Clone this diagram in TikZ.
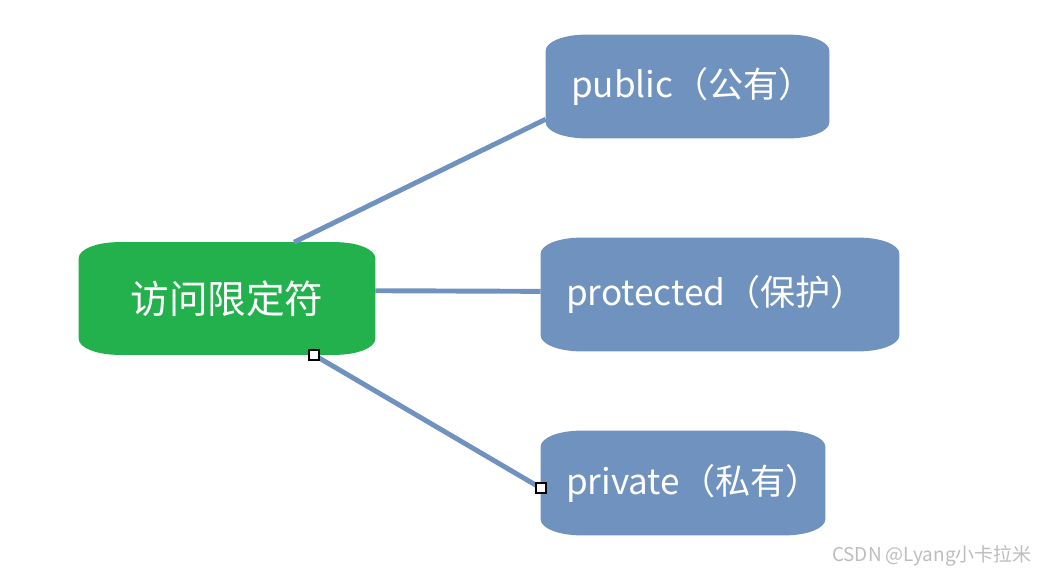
\documentclass[tikz,border=0pt]{standalone}
\usepackage{fontspec}
\setmainfont{Noto Sans CJK SC}
\usetikzlibrary{backgrounds}
\definecolor{vert}{HTML}{22B14C}
\definecolor{bleu}{HTML}{7092BE}
\definecolor{gris}{HTML}{BDBDBD}
% fond aux coins elliptiques : #1 noeud, #2 couleur
\newcommand{\fondarrondi}[2]{%
	\fill[#2] ([xshift=0.8cm]#1.north west) -- ([xshift=-0.8cm]#1.north east)
		arc[start angle=90,end angle=0,x radius=0.8cm,y radius=0.32cm]
		-- ([yshift=0.32cm]#1.south east)
		arc[start angle=0,end angle=-90,x radius=0.8cm,y radius=0.32cm]
		-- ([xshift=0.8cm]#1.south west)
		arc[start angle=-90,end angle=-180,x radius=0.8cm,y radius=0.32cm]
		-- ([yshift=-0.32cm]#1.north west)
		arc[start angle=180,end angle=90,x radius=0.8cm,y radius=0.32cm] -- cycle;}
\begin{document}
\begin{tikzpicture}[x=0.02cm,y=-0.02cm]
		% Styles
		\tikzstyle{fleche}=[-,line width=2.8pt,draw=bleu]
		\tikzstyle{noeud}=[text=white,font=\fontsize{20}{24}\selectfont]
		\tikzstyle{racine}=[noeud,font=\fontsize{22}{26}\selectfont,minimum width=5.92cm,minimum height=2.24cm]
		\tikzstyle{feuille}=[noeud,align=left,inner xsep=0.5cm]
		\tikzstyle{poignee}=[draw=black,fill=white,line width=1.1pt,minimum size=0.2cm,inner sep=0pt]
		\tikzstyle{commentaire}=[text=gris,font=\fontsize{10.8}{13}\selectfont]
		% Cadre
		\useasboundingbox (0,0) rectangle (1042,574);
		% Noeuds
		\node[racine] (acces) at (227,298.5) {访问限定符};
		\node[feuille,text width=4.66cm,minimum height=2.06cm] (public) at (687.5,86.5) {public（公有）};
		\node[feuille,text width=6.16cm,minimum height=2.26cm] (protected) at (720,294.5) {protected（保护）};
		\node[feuille,text width=4.68cm,minimum height=2.08cm] (private) at (683,483) {private（私有）};
		\node[commentaire,anchor=east] (filigrane) at (1038,556) {CSDN @Lyang小卡拉米};
		% Fonds
		\begin{scope}[on background layer]
			\fondarrondi{acces}{vert}
			\fondarrondi{public}{bleu}
			\fondarrondi{protected}{bleu}
			\fondarrondi{private}{bleu}
		\end{scope}
		% Arcs
		\draw[fleche] (acces.40)--(public.193);
		\draw[fleche] (acces.3)--(protected.179);
		\draw[fleche] (acces.-33)--(private.182);
		% Poignees
		\node[poignee] (p1) at (acces.-33) {};
		\node[poignee] (p2) at (private.182) {};
	\end{tikzpicture}
\end{document}
